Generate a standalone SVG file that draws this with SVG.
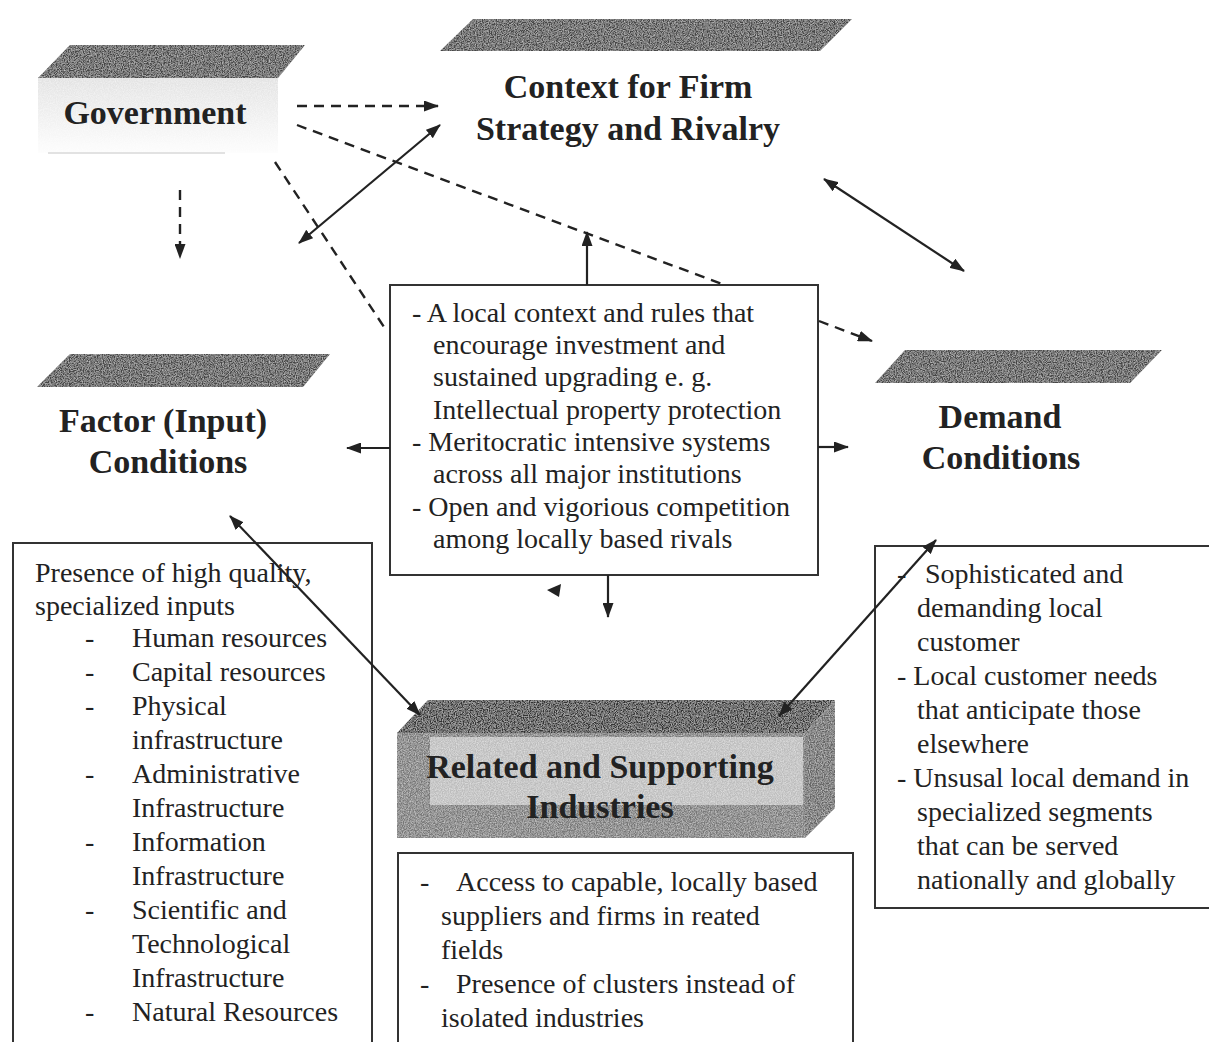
<svg xmlns="http://www.w3.org/2000/svg" width="1209" height="1042" viewBox="0 0 1209 1042">
<style>
  .title { font-family: "Liberation Serif", "Times New Roman", serif; font-weight: bold; font-size: 34px; fill: #222; text-anchor: middle; }
  .body { font-family: "Liberation Serif", "Times New Roman", serif; font-size: 28px; fill: #222; }
  .box { fill: #fff; stroke: #333; stroke-width: 2; }
  .slab { fill: #454545; filter: url(#grain); }
  .solid { stroke: #222; stroke-width: 2.2; fill: none; }
  .dash { stroke: #222; stroke-width: 2.4; fill: none; stroke-dasharray: 10 7; }
</style>
<defs>
  <filter id="grain" x="0" y="0" width="100%" height="100%">
    <feTurbulence type="fractalNoise" baseFrequency="0.85" numOctaves="2" seed="4" result="n"/>
    <feColorMatrix in="n" type="matrix" values="0 0 0 0 1  0 0 0 0 1  0 0 0 0 1  0.9 0 0 0 -0.3" result="w"/>
    <feComposite in="w" in2="SourceGraphic" operator="in" result="ws"/>
    <feMerge><feMergeNode in="SourceGraphic"/><feMergeNode in="ws"/></feMerge>
  </filter>
  <linearGradient id="fade" x1="0" y1="0" x2="0" y2="1">
    <stop offset="0" stop-color="#e2e2e2"/>
    <stop offset="1" stop-color="#fdfdfd"/>
  </linearGradient>
  <marker id="ah" viewBox="0 0 15 11" refX="14" refY="5.5" markerWidth="15" markerHeight="11" markerUnits="userSpaceOnUse" orient="auto-start-reverse">
    <path d="M0,0 L15,5.5 L0,11 Z" fill="#222"/>
  </marker>
</defs>
<rect width="1209" height="1042" fill="#fff"/>

<g id="government">
  <rect x="38" y="78" width="240" height="75" fill="url(#fade)" filter="url(#grain)"/>
  <line x1="48" y1="153" x2="225" y2="153" stroke="#d8d8d8" stroke-width="1.5"/>
  <polygon class="slab" points="70,45 305,45 278,78 38,78"/>
  <text class="title" x="155" y="124">Government</text>
</g>

<g id="context">
  <polygon class="slab" points="473,19 852,19 820,51 440,51"/>
  <text class="title" x="628" y="98">Context for Firm</text>
  <text class="title" x="628" y="140">Strategy and Rivalry</text>
</g>

<g id="factor">
  <polygon class="slab" points="70,354 330,354 303,387 37,387"/>
  <text class="title" x="163" y="432">Factor (Input)</text>
  <text class="title" x="168" y="473">Conditions</text>
</g>

<g id="demand">
  <polygon class="slab" points="905,350 1162,350 1130,383 875,383"/>
  <text class="title" x="1000" y="428">Demand</text>
  <text class="title" x="1001" y="469">Conditions</text>
</g>

<g id="related">
  <polygon points="428,700 835,700 805,733 397,733" fill="#333" filter="url(#grain)"/>
  <polygon points="805,733 835,700 835,808 805,838" fill="#646464" filter="url(#grain)"/>
  <rect x="397" y="733" width="408" height="105" fill="#777" filter="url(#grain)"/>
  <rect x="430" y="737" width="373" height="68" fill="#bdbdbd" filter="url(#grain)"/>
  <text class="title" x="600" y="778">Related and Supporting</text>
  <text class="title" x="600" y="818">Industries</text>
</g>

<g id="box-rivalry">
  <rect class="box" x="390" y="285" width="428" height="290"/>
  <text class="body" x="412" y="322">- A local context and rules that</text>
  <text class="body" x="433" y="354">encourage investment and</text>
  <text class="body" x="433" y="386">sustained upgrading e. g.</text>
  <text class="body" x="433" y="419">Intellectual property protection</text>
  <text class="body" x="412" y="451">- Meritocratic intensive systems</text>
  <text class="body" x="433" y="483">across all major institutions</text>
  <text class="body" x="412" y="516">- Open and vigorious competition</text>
  <text class="body" x="433" y="548">among locally based rivals</text>
</g>

<g id="box-factor">
  <rect class="box" x="13" y="543" width="359" height="520"/>
  <text class="body" x="35" y="582">Presence of high quality,</text>
  <text class="body" x="35" y="615">specialized inputs</text>
  <g class="body">
    <text x="85" y="647">-</text><text x="132" y="647">Human resources</text>
    <text x="85" y="681">-</text><text x="132" y="681">Capital resources</text>
    <text x="85" y="715">-</text><text x="132" y="715">Physical</text>
    <text x="132" y="749">infrastructure</text>
    <text x="85" y="783">-</text><text x="132" y="783">Administrative</text>
    <text x="132" y="817">Infrastructure</text>
    <text x="85" y="851">-</text><text x="132" y="851">Information</text>
    <text x="132" y="885">Infrastructure</text>
    <text x="85" y="919">-</text><text x="132" y="919">Scientific and</text>
    <text x="132" y="953">Technological</text>
    <text x="132" y="987">Infrastructure</text>
    <text x="85" y="1021">-</text><text x="132" y="1021">Natural Resources</text>
  </g>
</g>

<g id="box-related">
  <rect class="box" x="398" y="853" width="455" height="210"/>
  <text class="body" x="420" y="891">-</text>
  <text class="body" x="456" y="891">Access to capable, locally based</text>
  <text class="body" x="441" y="925">suppliers and firms in reated</text>
  <text class="body" x="441" y="959">fields</text>
  <text class="body" x="420" y="993">-</text>
  <text class="body" x="456" y="993">Presence of clusters instead of</text>
  <text class="body" x="441" y="1027">isolated industries</text>
</g>

<g id="box-demand">
  <rect class="box" x="875" y="546" width="360" height="362"/>
  <text class="body" x="897" y="583">-</text>
  <text class="body" x="925" y="583">Sophisticated and</text>
  <text class="body" x="917" y="617">demanding local</text>
  <text class="body" x="917" y="651">customer</text>
  <text class="body" x="897" y="685">- Local customer needs</text>
  <text class="body" x="917" y="719">that anticipate those</text>
  <text class="body" x="917" y="753">elsewhere</text>
  <text class="body" x="897" y="787">- Unsusal local demand in</text>
  <text class="body" x="917" y="821">specialized segments</text>
  <text class="body" x="917" y="855">that can be served</text>
  <text class="body" x="917" y="889">nationally and globally</text>
</g>

<g id="connectors">
  <line class="dash" x1="297" y1="106" x2="438" y2="106" marker-end="url(#ah)"/>
  <line class="dash" x1="297" y1="125" x2="722" y2="284"/>
  <line class="dash" x1="819" y1="321" x2="872" y2="341" marker-end="url(#ah)"/>
  <line class="dash" x1="180" y1="190" x2="180" y2="258" marker-end="url(#ah)"/>
  <line class="dash" x1="275" y1="162" x2="386" y2="330"/>
  <line class="solid" x1="299" y1="243" x2="440" y2="125" marker-start="url(#ah)" marker-end="url(#ah)"/>
  <line class="solid" x1="824" y1="179" x2="964" y2="271" marker-start="url(#ah)" marker-end="url(#ah)"/>
  <line class="solid" x1="587" y1="285" x2="587" y2="232" marker-end="url(#ah)"/>
  <line class="solid" x1="390" y1="448" x2="347" y2="448" marker-end="url(#ah)"/>
  <line class="solid" x1="818" y1="447" x2="848" y2="447" marker-end="url(#ah)"/>
  <line class="solid" x1="608" y1="575" x2="608" y2="617" marker-end="url(#ah)"/>
  <polygon points="547,590 561,584 559,597" fill="#222"/>
  <line class="solid" x1="230" y1="516" x2="420" y2="715" marker-start="url(#ah)" marker-end="url(#ah)"/>
  <line class="solid" x1="779" y1="716" x2="936" y2="540" marker-start="url(#ah)" marker-end="url(#ah)"/>
</g>
</svg>
